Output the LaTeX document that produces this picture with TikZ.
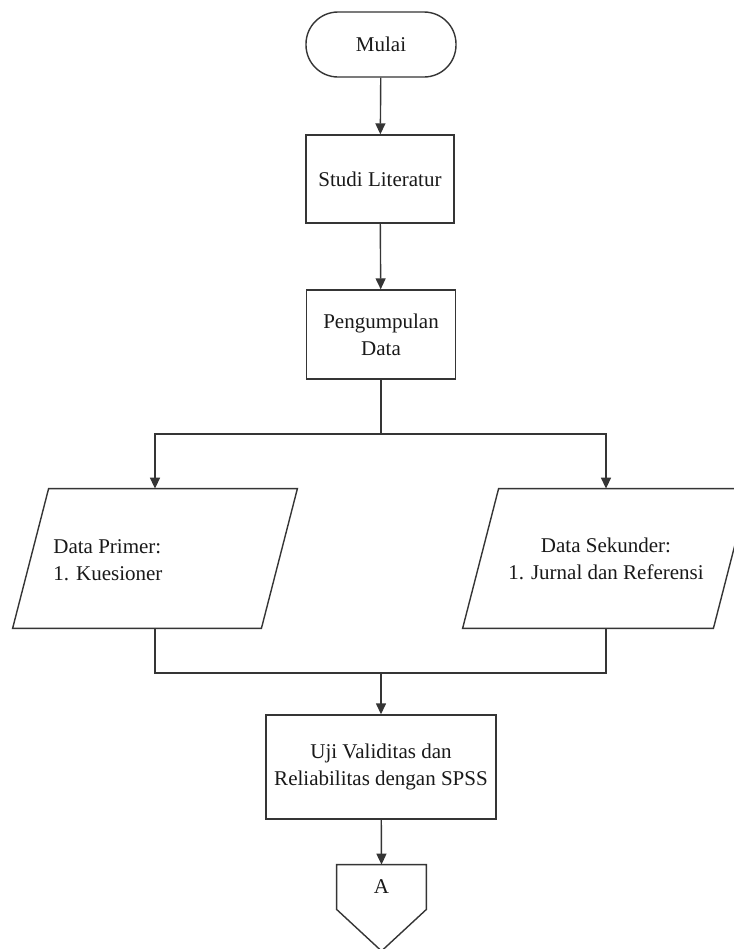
\documentclass[tikz,border=0pt]{standalone}
\usepackage{fontspec}
\setmainfont{Liberation Serif}
\usetikzlibrary{arrows.meta}
\definecolor{garis}{HTML}{353535}
\begin{document}
\begin{tikzpicture}[x=0.5pt, y=-0.5pt,
  font=\fontsize{10.5}{13.5}\selectfont,
  every node/.style={text=black!90, inner sep=0pt, align=center},
  proses/.style={rectangle, draw=garis, line width=0.7pt},
  terminal/.style={rectangle, draw=garis, line width=0.7pt, rounded corners=16pt,
    minimum width=75pt, minimum height=32.5pt},
  dataio/.style={rectangle, minimum height=69.5pt},
  panah/.style={draw=garis, line width=0.7pt, -{Triangle[width=5pt,length=5.5pt]}},
  garisan/.style={draw=garis, line width=0.7pt}]
\useasboundingbox (0,0) rectangle (734,949);
\clip (0,0) rectangle (734,949);
\fill[white] (0,0) rectangle (734,949);
% alur utama
\node[terminal] (mulai) at (381,44.5) {Mulai};
\node[proses, minimum width=74pt, minimum height=44pt] (studi) at (380,179) {Studi Literatur};
\node[proses, minimum width=74.5pt, minimum height=44.5pt] (kumpul) at (381,334.5) {Pengumpulan\\Data};
\coordinate (cabang) at (381,434);
% data primer dan sekunder
\node[dataio, minimum width=124pt] (primer) at (155,558.5) {};
\node[anchor=west, align=left] (primerteks) at (53,560) {Data Primer:\\1. Kuesioner};
\node[dataio, minimum width=125pt] (sekunder) at (606,558.5) {Data Sekunder:\\1. Jurnal dan Referensi};
\foreach \n in {primer,sekunder}
  \draw[garisan] ([xshift=-9pt]\n.south west) -- ([xshift=9pt]\n.north west)
    -- ([xshift=9pt]\n.north east) -- ([xshift=-9pt]\n.south east) -- cycle;
\coordinate (gabung) at (381,673);
\node[proses, minimum width=115pt, minimum height=52pt] (uji) at (381,767) {Uji Validitas dan\\Reliabilitas dengan SPSS};
% penghubung halaman
\node[minimum width=44.5pt, minimum height=22pt] (A) at (381.5,887) {A};
\coordinate (ujung) at (381.5,951);
\draw[garisan] (A.south west) -- (A.north west) -- (A.north east) -- (A.south east) -- (ujung) -- cycle;

\draw[panah] (mulai) -- (studi);
\draw[panah] (studi) -- (kumpul);
\draw[garisan] (kumpul) -- (cabang);
\draw[panah] (cabang) -| (primer.north);
\draw[panah] (cabang) -| (sekunder.north);
\draw[garisan] (primer.south) |- (gabung) -| (sekunder.south);
\draw[panah] (gabung) -- (uji);
\draw[panah] (uji) -- (A.north);
\end{tikzpicture}
\end{document}
